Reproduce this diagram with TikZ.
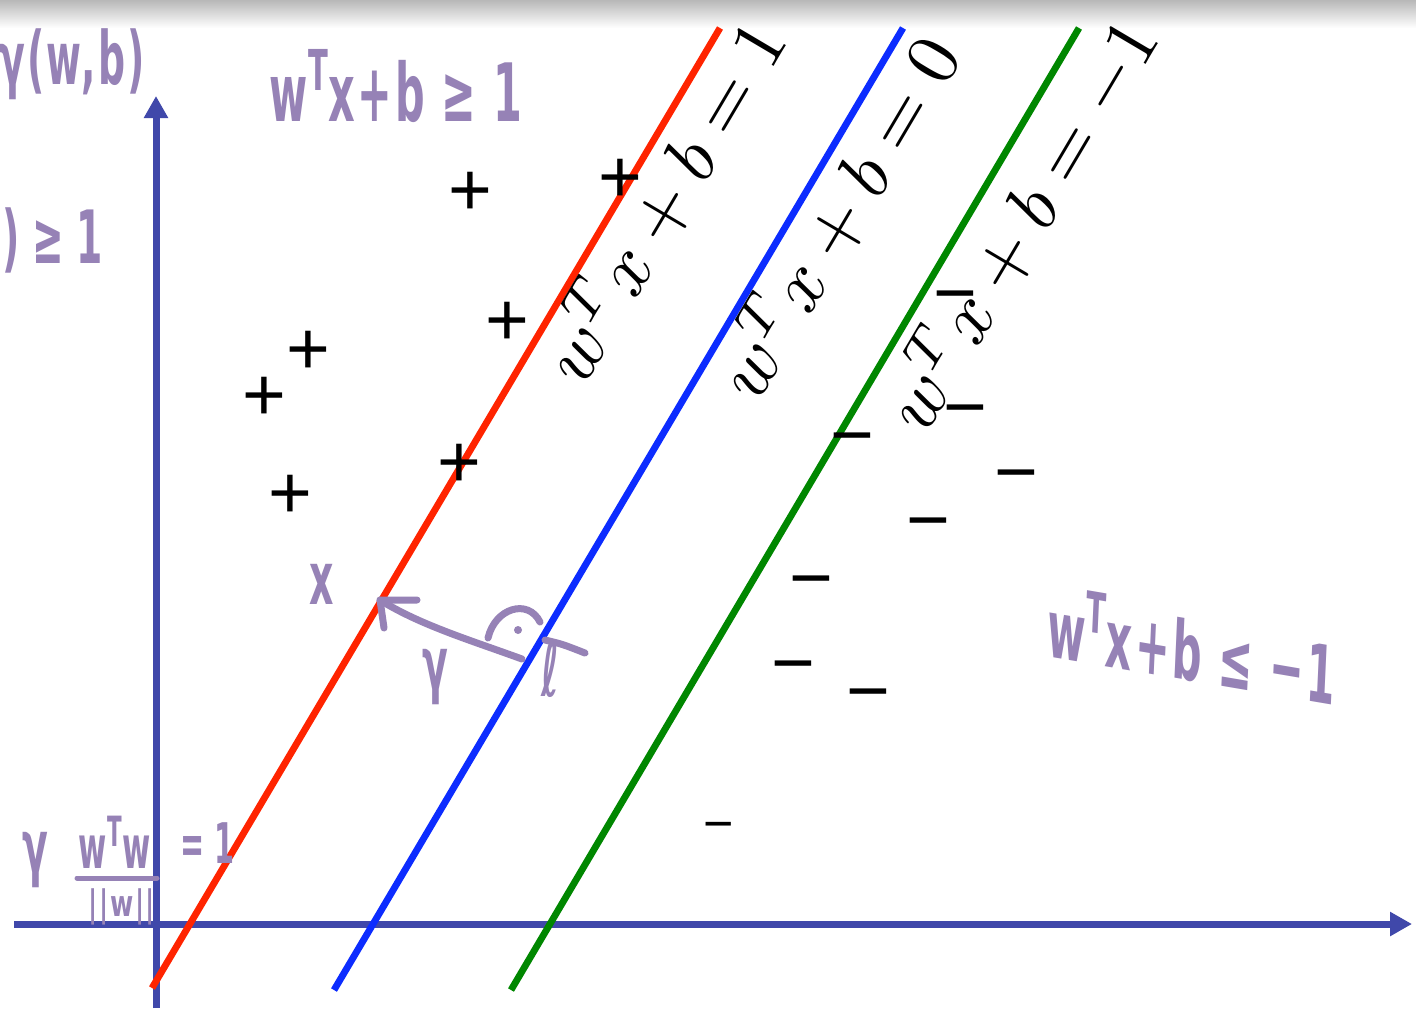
\documentclass[tikz,border=0pt]{standalone}
\usepackage{fontspec}
\newfontfamily\hand[LetterSpace=6]{DejaVu Sans}
\newfontfamily\markfont{Liberation Sans}
\usetikzlibrary{arrows.meta}
\definecolor{axisblue}{RGB}{64,72,170}
\definecolor{hpurple}{RGB}{150,130,182}
\definecolor{lred}{RGB}{255,36,0}
\definecolor{lblue}{RGB}{12,44,255}
\definecolor{lgreen}{RGB}{0,135,0}
\tikzset{
  axisline/.style={draw=axisblue, line width=3.5pt, -{Triangle[length=11pt,width=11.5pt]}},
  hyper/.style={line width=3.4pt},
  lab/.style={scale=3.73, rotate=59.4, anchor=base west, inner sep=0pt},
  plusmark/.style={font=\markfont\fontsize{37.5}{40}\selectfont, inner sep=0pt, yshift=-2pt},
  minusmark/.style={font=\markfont\fontsize{37.5}{40}\selectfont, inner sep=0pt, yshift=-6.5pt},
  smallminus/.style={font=\markfont\fontsize{26}{30}\selectfont, inner sep=0pt, yshift=-4.5pt},
  hw/.style={text=hpurple, font=\hand\bfseries\fontsize{21}{25}\selectfont, inner sep=0pt, xscale=0.9, yscale=1.75},
  hwbig/.style={hw, font=\hand\bfseries\fontsize{23}{27}\selectfont},
  hstroke/.style={draw=hpurple, line width=3.5pt, line cap=round, line join=round},
}
\begin{document}
\begin{tikzpicture}[x=0.5pt,y=-0.5pt]
\useasboundingbox (0,0) rectangle (1416,1008);
\fill[white] (0,0) rectangle (1416,1008);
\shade[top color=black!28, bottom color=white] (0,0) rectangle (1416,28);

% axes
\coordinate (xs) at (14,924);
\coordinate (xe) at (1412,924);
\coordinate (ys) at (156,1008);
\coordinate (ye) at (156,96);
\draw[axisline] (xs) -- (xe);
\draw[axisline] (ys) -- (ye);

% hyperplanes
\coordinate (r1) at (152,988);  \coordinate (r2) at (720,28);
\coordinate (b1) at (334,990);  \coordinate (b2) at (903,28);
\coordinate (g1) at (511,990);  \coordinate (g2) at (1079,28);
\draw[hyper, lred] (r1) -- (r2);
\draw[hyper, lblue] (b1) -- (b2);
\draw[hyper, lgreen] (g1) -- (g2);

% labels
\node[lab] (lr) at (583,390) {$w^Tx+b=1$};
\node[lab] (lb) at (757,406) {$w^Tx+b=0$};
\node[lab] (lg) at (925,438) {$w^Tx+b=-1$};

% plus markers
\node[plusmark] (p1) at (470,190) {+};
\node[plusmark] (p2) at (620,177) {+};
\node[plusmark] (p3) at (507,320) {+};
\node[plusmark] (p4) at (308,349) {+};
\node[plusmark] (p5) at (264,395) {+};
\node[plusmark] (p6) at (459,462) {+};
\node[plusmark] (p7) at (290,493) {+};

% minus markers
\node[minusmark] (m1) at (955,292) {−};
\node[minusmark] (m2) at (965,406) {−};
\node[minusmark] (m3) at (852,434) {−};
\node[minusmark] (m4) at (1016,471) {−};
\node[minusmark] (m5) at (928,519) {−};
\node[minusmark] (m6) at (811,577) {−};
\node[minusmark] (m7) at (793,662) {−};
\node[minusmark] (m8) at (868,690) {−};
\node[smallminus] (m9) at (719,823) {−};

% handwritten annotations
\node[hw] (gwb) at (72,64) {γ(w,b)};
\node[hw, anchor=west] (ge1) at (2,240) {)\,\,≥\,\,1};
\node[hwbig] (top) at (396,86) {w\textsuperscript{T}x+b ≥ 1};
\node[hwbig, rotate=-5] (bot) at (1192,645) {w\textsuperscript{T}x+b ≤ −1};
\node[hw] (xl) at (322,584) {x};
\node[hw] (gl) at (435,677) {γ};
\node[hw] (ell) at (550,670) {ℓ};
\node[hw] (gb) at (35,860) {γ};
\node[hw, font=\hand\bfseries\fontsize{17}{20}\selectfont] (num) at (115,842) {w\textsuperscript{T}w};
\coordinate (barl) at (77,878);
\coordinate (barr) at (157,878);
\draw[hstroke, line width=2.5pt] (barl) -- (barr);
\node[hw, font=\hand\bfseries\fontsize{14}{17}\selectfont, yscale=1.3/1.75] (den) at (122,907) {||w||};
\node[hw, anchor=west, font=\hand\bfseries\fontsize{16}{20}\selectfont] (eq) at (180,843) {=\,\,1};

% margin arrow with right-angle mark
\coordinate (gfoot) at (522,659);
\coordinate (gtip) at (380,600);
\draw[hstroke] (gfoot) .. controls (470,640) and (420,625) .. (gtip);
\coordinate (ha) at (417,600);
\coordinate (hb) at (384,628);
\draw[hstroke] (ha) -- (gtip) -- (hb);
\coordinate (ra1) at (488,638);
\coordinate (ra2) at (540,622);
\draw[hstroke] (ra1) .. controls (495,608) and (528,598) .. (ra2);
\fill[hpurple] (518,630) circle (2pt);
\coordinate (c1) at (545,640);
\coordinate (c2) at (585,653);
\draw[hstroke] (c1) .. controls (562,644) .. (c2);
\end{tikzpicture}
\end{document}
